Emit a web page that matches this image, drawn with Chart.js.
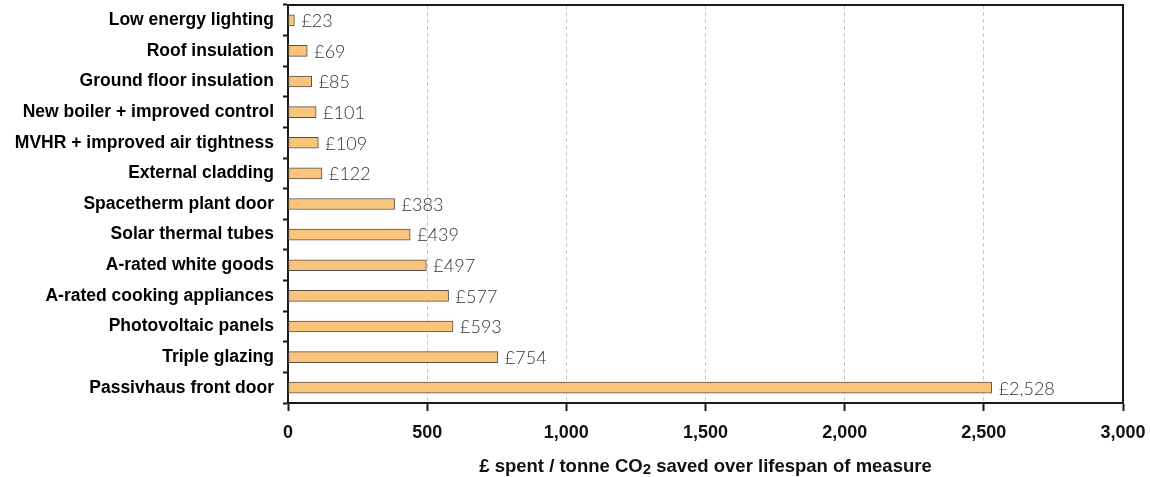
<!DOCTYPE html>
<html>
<head>
<meta charset="utf-8">
<script src="https://cdn.jsdelivr.net/npm/chart.js@4/dist/chart.umd.min.js"></script>
<style>
  html, body { margin: 0; padding: 0; background: #fff; }
  #wrap { width: 1150px; height: 477px; position: relative; }
</style>
</head>
<body>
<div id="wrap"><canvas id="c" width="1150" height="477"></canvas></div>
<script>
// Cost-effectiveness of retrofit measures (£ per tonne CO2 saved)
const measures = [
  'Low energy lighting',
  'Roof insulation',
  'Ground floor insulation',
  'New boiler + improved control',
  'MVHR + improved air tightness',
  'External cladding',
  'Spacetherm plant door',
  'Solar thermal tubes',
  'A-rated white goods',
  'A-rated cooking appliances',
  'Photovoltaic panels',
  'Triple glazing',
  'Passivhaus front door'
];
const costPerTonne = [23, 69, 85, 101, 109, 122, 383, 439, 497, 577, 593, 754, 2528];
const xTicks = [0, 500, 1000, 1500, 2000, 2500, 3000];
// Axis title pieces: the "2" of CO2 is set smaller
const titleParts = [
  { text: '£ spent / tonne CO', size: 18.5, dy: 0 },
  { text: '2', size: 15, dy: 2 },
  { text: ' saved over lifespan of measure', size: 18.5, dy: 0 }
];

const BOLD = '"Liberation Sans", Arial, sans-serif';
const fmt = v => v.toLocaleString('en-GB');

// Value labels to the right of each bar
const barLabels = {
  id: 'barLabels',
  afterDatasetsDraw(chart) {
    const ctx = chart.ctx;
    const meta = chart.getDatasetMeta(0);
    ctx.save();
    ctx.font = '300 18px Lato, Roboto, "Open Sans", sans-serif';
    ctx.fillStyle = '#333';
    ctx.textAlign = 'left';
    ctx.textBaseline = 'middle';
    meta.data.forEach((bar, i) => {
      ctx.fillText('£' + fmt(costPerTonne[i]), bar.x + 7, bar.y + 1);
    });
    ctx.restore();
  }
};

// Top and right edges of the plot frame, and the x-axis title
const frame = {
  id: 'frame',
  afterDraw(chart) {
    const { ctx, chartArea: a } = chart;
    ctx.save();
    ctx.strokeStyle = '#1a1a1a';
    ctx.lineWidth = 2;
    ctx.beginPath();
    ctx.moveTo(a.left, a.top);
    ctx.lineTo(a.right, a.top);
    ctx.lineTo(a.right, a.bottom);
    ctx.stroke();

    ctx.fillStyle = '#111';
    ctx.textBaseline = 'alphabetic';
    ctx.textAlign = 'left';
    let total = 0;
    titleParts.forEach(p => {
      ctx.font = 'bold ' + p.size + 'px ' + BOLD;
      p.w = ctx.measureText(p.text).width;
      total += p.w;
    });
    let x = (a.left + a.right) / 2 - total / 2;
    const base = 472;
    titleParts.forEach(p => {
      ctx.font = 'bold ' + p.size + 'px ' + BOLD;
      ctx.fillText(p.text, x, base + p.dy);
      x += p.w;
    });
    ctx.restore();
  }
};

new Chart(document.getElementById('c'), {
  type: 'bar',
  data: {
    labels: measures,
    datasets: [{
      data: costPerTonne,
      backgroundColor: '#f9c47b',
      borderColor: '#5a5048',
      borderWidth: 1,
      borderSkipped: false,
      barThickness: 11
    }]
  },
  options: {
    indexAxis: 'y',
    responsive: false,
    animation: false,
    devicePixelRatio: 1,
    layout: { padding: { top: 5, right: 27, left: 0, bottom: 0 } },
    plugins: { legend: { display: false }, tooltip: { enabled: false } },
    scales: {
      x: {
        min: 0,
        max: 3000,
        afterBuildTicks(scale) { scale.ticks = xTicks.map(v => ({ value: v })); },
        afterFit(scale) {
          scale.height = 74;
          scale.paddingLeft = 0;
          scale.paddingRight = 0;
        },
        ticks: {
          callback: v => fmt(v),
          font: { family: BOLD, size: 18, weight: 'bold' },
          color: '#111',
          padding: 11,
          maxRotation: 0
        },
        grid: {
          color: '#c8c8c8',
          lineWidth: 1,
          tickColor: '#1a1a1a',
          tickWidth: 2,
          tickLength: 8,
          tickBorderDash: []
        },
        border: { display: true, color: '#1a1a1a', width: 2, dash: [4, 3] }
      },
      y: {
        afterFit(scale) {
          scale.width = 288;
          scale.paddingTop = 0;
          scale.paddingBottom = 0;
        },
        ticks: {
          font: { family: BOLD, size: 17.5, weight: 'bold' },
          color: '#000',
          padding: 9
        },
        grid: {
          offset: true,
          drawOnChartArea: false,
          drawTicks: true,
          tickLength: 5,
          tickColor: '#1a1a1a',
          tickWidth: 2
        },
        border: { display: true, color: '#1a1a1a', width: 2 }
      }
    }
  },
  plugins: [barLabels, frame]
});
</script>
</body>
</html>
